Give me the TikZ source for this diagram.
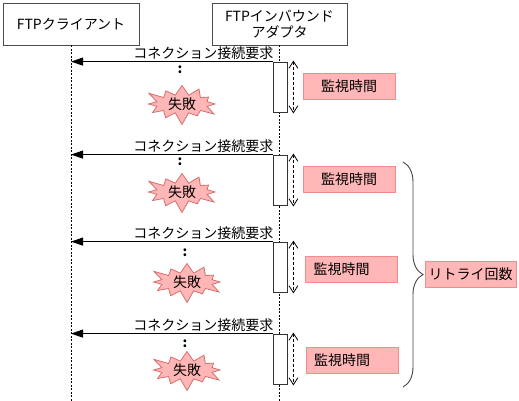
\documentclass[tikz,border=0pt]{standalone}
\usepackage{fontspec}
\setmainfont{Noto Sans CJK JP}
\usetikzlibrary{arrows.meta,shapes.symbols,decorations.pathreplacing}
\definecolor{pinkfill}{RGB}{255,182,182}
\definecolor{pinkdraw}{RGB}{242,140,140}
\definecolor{burstdraw}{RGB}{214,110,110}
\definecolor{bracecol}{RGB}{70,70,70}
\tikzset{
  hdr/.style={draw=black!70, fill=white, line width=0.8pt, inner sep=1pt},
  life/.style={draw=black, line width=0.9pt, dash pattern=on 2pt off 1.5pt},
  actbar/.style={draw=black!80, fill=white, line width=0.8pt, minimum width=14pt, minimum height=50pt, inner sep=0pt},
  msg/.style={draw=black, line width=1pt, -{Triangle[length=12pt,width=8pt]}},
  msglbl/.style={inner sep=1pt, anchor=south east},
  dur/.style={draw=black, line width=0.8pt, dash pattern=on 3pt off 2pt, {Straight Barb[length=7pt,width=9pt]}-{Straight Barb[length=7pt,width=9pt]}},
  pinkbox/.style={draw=pinkdraw, fill=pinkfill, line width=1pt, minimum width=92pt, minimum height=26pt, inner sep=0pt},
  burst/.style={starburst, draw=burstdraw, fill=pinkfill, line width=0.8pt, minimum width=78pt, minimum height=33pt, inner sep=0pt, starburst points=12, starburst point height=13pt},
  dotlbl/.style={inner sep=0pt, font=\fontsize{13.5}{15}\selectfont\bfseries},
  bracestyle/.style={draw=bracecol, line width=0.9pt, decorate, decoration={brace, amplitude=20pt}}
}
\begin{document}
\begin{tikzpicture}[x=1pt, y=-1pt, font=\fontsize{14}{16}\selectfont]
\useasboundingbox (0,0) rectangle (519,401);
% headers
\node[hdr, minimum width=136pt, minimum height=42pt] (client) at (71,24) {FTPクライアント};
\node[hdr, minimum width=135pt, minimum height=42pt, align=center] (adapter) at (279.5,24) {FTPインバウンド\\アダプタ};
\coordinate (cend) at (71,401);
\coordinate (aend) at (279.5,401);
\draw[life] (client.south) -- (cend);
\draw[life] (adapter.south) -- (aend);
% rounds
\foreach \i/\yy/\dy/\by/\bx/\mx/\my/\tx in {1/62/70/104/182/349/86.5/0, 2/155/162/192/182/349/179/0, 3/242/253/282/187/351.5/269.5/1, 4/334/344/370/187/352/360.5/1}{
  \node[actbar] (bar\i) at (280,\yy+25) {};
  \draw[msg] (bar\i.north west) -- (bar\i.north west -| client.south);
  \node[msglbl] (req\i) at ([xshift=2pt,yshift=1pt]bar\i.north west) {コネクション接続要求};
  \draw[dur] ([xshift=6pt,yshift=1pt]bar\i.north east) -- ([xshift=6pt,yshift=-1pt]bar\i.south east);
  \ifnum\tx=0
    \node[pinkbox] (mon\i) at (\mx,\my) {監視時間};
  \else
    \node[pinkbox, text width=76pt, inner xsep=8pt, align=left] (mon\i) at (\mx,\my) {監視時間};
  \fi
  \node[dotlbl] (dot\i) at (\bx-2,\dy) {:};
  \node[burst] (fail\i) at (\bx,\by) {失敗};
}
% brace
\coordinate (bt) at (403,162);
\coordinate (bb) at (403,387);
\draw[bracestyle] (bt) -- (bb);
\node[pinkbox, minimum width=91pt] (retry) at (470.5,274) {リトライ回数};
\end{tikzpicture}
\end{document}
